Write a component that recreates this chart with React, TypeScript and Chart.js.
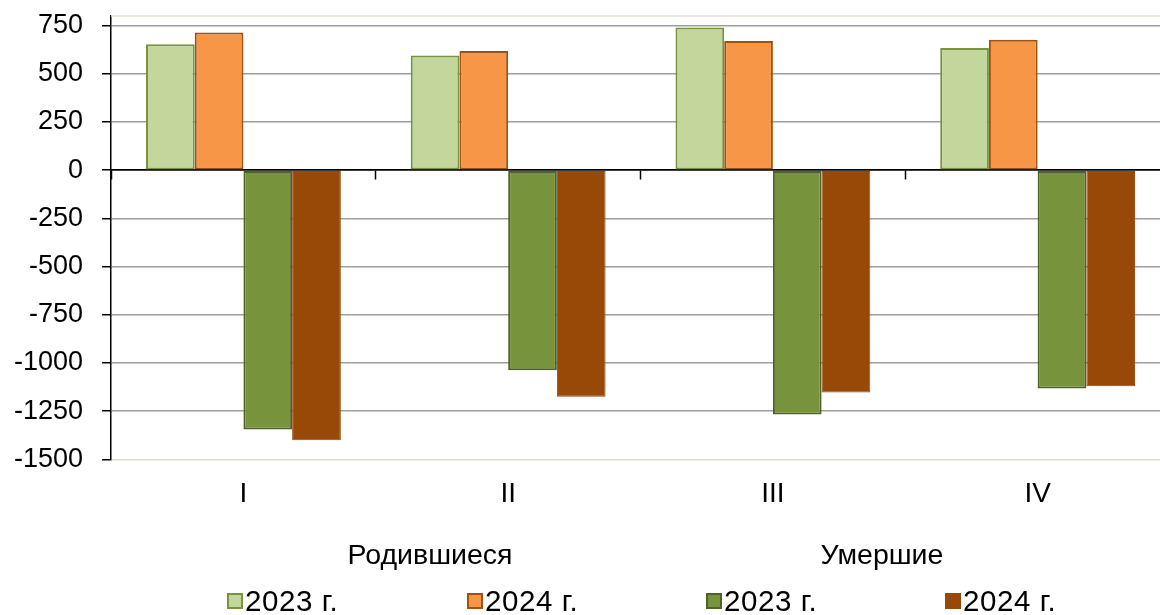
import React, { useEffect, useRef } from "react";
import { Chart, registerables } from "chart.js";

Chart.register(...registerables);

const categories = ["I", "II", "III", "IV"];
const born2023 = [653, 595, 740, 634];
const born2024 = [715, 618, 670, 677];
const died2023 = [-1345, -1038, -1267, -1132];
const died2024 = [-1401, -1175, -1153, -1120];
const groupLabels = ["Родившиеся", "Умершие"];
const seriesLabels = ["2023 г.", "2024 г.", "2023 г.", "2024 г."];
const yTicks = [-1500, -1250, -1000, -750, -500, -250, 0, 250, 500, 750];
const yMin = -1500;
const yMax = 800;

const FONT = "'Liberation Sans', Arial, sans-serif";

const fills = ["#c3d69b", "#f79646", "#77933c", "#984807"];
const borders = ["#77933c", "#a0500f", "#4f6228", "#984807"];
const borderWidths = [2, 2, 2, 1];

const topBorder = {
  id: "topBorder",
  beforeDatasetsDraw(chart: any) {
    const { ctx, chartArea } = chart;
    ctx.save();
    ctx.strokeStyle = "#e8e2d2";
    ctx.lineWidth = 1.5;
    ctx.beginPath();
    ctx.moveTo(chartArea.left, chartArea.top);
    ctx.lineTo(chartArea.right, chartArea.top);
    ctx.stroke();
    ctx.restore();
  },
};

export default function App() {
  const ref = useRef<HTMLCanvasElement | null>(null);

  useEffect(() => {
    if (!ref.current) return;
    const series = [born2023, born2024, died2023, died2024];
    const chart = new Chart(ref.current, {
      type: "bar",
      data: {
        labels: categories,
        datasets: series.map((d, i) => ({
          label: seriesLabels[i],
          data: d,
          backgroundColor: fills[i],
          borderColor: borders[i],
          borderWidth: borderWidths[i],
          borderSkipped: false,
          xAxisID: "x",
          yAxisID: "y",
        })),
      },
      options: {
        responsive: false,
        animation: false,
        devicePixelRatio: 1,
        layout: { padding: { left: 14, right: 2, top: 16, bottom: 104 } },
        plugins: { legend: { display: false }, tooltip: { enabled: false } },
        datasets: { bar: { categoryPercentage: 0.736, barPercentage: 1 } },
        scales: {
          x: {
            type: "category",
            position: { y: 0 },
            z: 1,
            offset: true,
            ticks: { display: false },
            grid: {
              display: true,
              drawOnChartArea: false,
              drawTicks: true,
              tickLength: 9,
              tickColor: "#000",
              tickWidth: 1.5,
              offset: true,
            },
            border: { display: true, color: "#000", width: 1.5 },
          },
          x2: {
            type: "category",
            position: "bottom",
            offset: true,
            grid: { display: false, drawTicks: false },
            border: { display: false },
            ticks: {
              color: "#000",
              font: { family: FONT, size: 28, lineHeight: 1.2 },
              padding: 18,
              maxRotation: 0,
              autoSkip: false,
            },
            afterFit: (s: any) => {
              s.height -= s.options.ticks.padding;
            },
          },
          y: {
            type: "linear",
            position: "left",
            min: yMin,
            max: yMax,
            afterBuildTicks: (axis: any) => {
              axis.ticks = yTicks.map((v) => ({ value: v }));
            },
            afterFit: (s: any) => {
              s.width -= s.options.ticks.padding;
              s.paddingTop = 0;
              s.paddingBottom = 0;
            },
            ticks: {
              color: "#000",
              font: { family: FONT, size: 27, lineHeight: 1 },
              padding: 19,
              callback: (v: any) => String(v),
            },
            grid: {
              color: (c: any) =>
                c.tick && c.tick.value === yMin
                  ? "#dcd9cf"
                  : c.tick && c.tick.value === 0
                  ? "#000"
                  : "#9e9e9e",
              lineWidth: 1.5,
              tickLength: 9,
              tickColor: "#000",
              tickWidth: 1.5,
            },
            border: { display: true, color: "#000", width: 1.5 },
          },
        },
      } as any,
      plugins: [topBorder],
    });
    return () => chart.destroy();
  }, []);

  const legendLefts = [227, 467, 706, 945];
  const headerCenters = [430, 882];

  return (
    <div
      style={{
        position: "fixed",
        left: 0,
        top: 0,
        width: 1160,
        height: 615,
        overflow: "hidden",
        background: "#fff",
        fontFamily: FONT,
      }}
    >
      <canvas ref={ref} width={1172} height={615} style={{ display: "block" }} />
      {groupLabels.map((g, i) => (
        <div
          key={"g" + i}
          style={{
            position: "absolute",
            left: headerCenters[i] - 150,
            width: 300,
            top: 540,
            textAlign: "center",
            fontSize: 28.5,
            lineHeight: "28px",
            color: "#000",
            whiteSpace: "nowrap",
          }}
        >
          {g}
        </div>
      ))}
      {seriesLabels.map((s, i) => (
        <div
          key={"l" + i}
          style={{
            position: "absolute",
            left: legendLefts[i],
            top: 587,
            display: "flex",
            alignItems: "flex-start",
            whiteSpace: "nowrap",
          }}
        >
          <span
            style={{
              display: "inline-block",
              boxSizing: "border-box",
              width: 16,
              height: 16,
              marginTop: 6,
              marginRight: 2,
              background: fills[i],
              border: `2px solid ${borders[i]}`,
            }}
          />
          <span style={{ fontSize: 29.5, lineHeight: "28px", color: "#000", letterSpacing: 0.6 }}>
            {s}
          </span>
        </div>
      ))}
    </div>
  );
}
